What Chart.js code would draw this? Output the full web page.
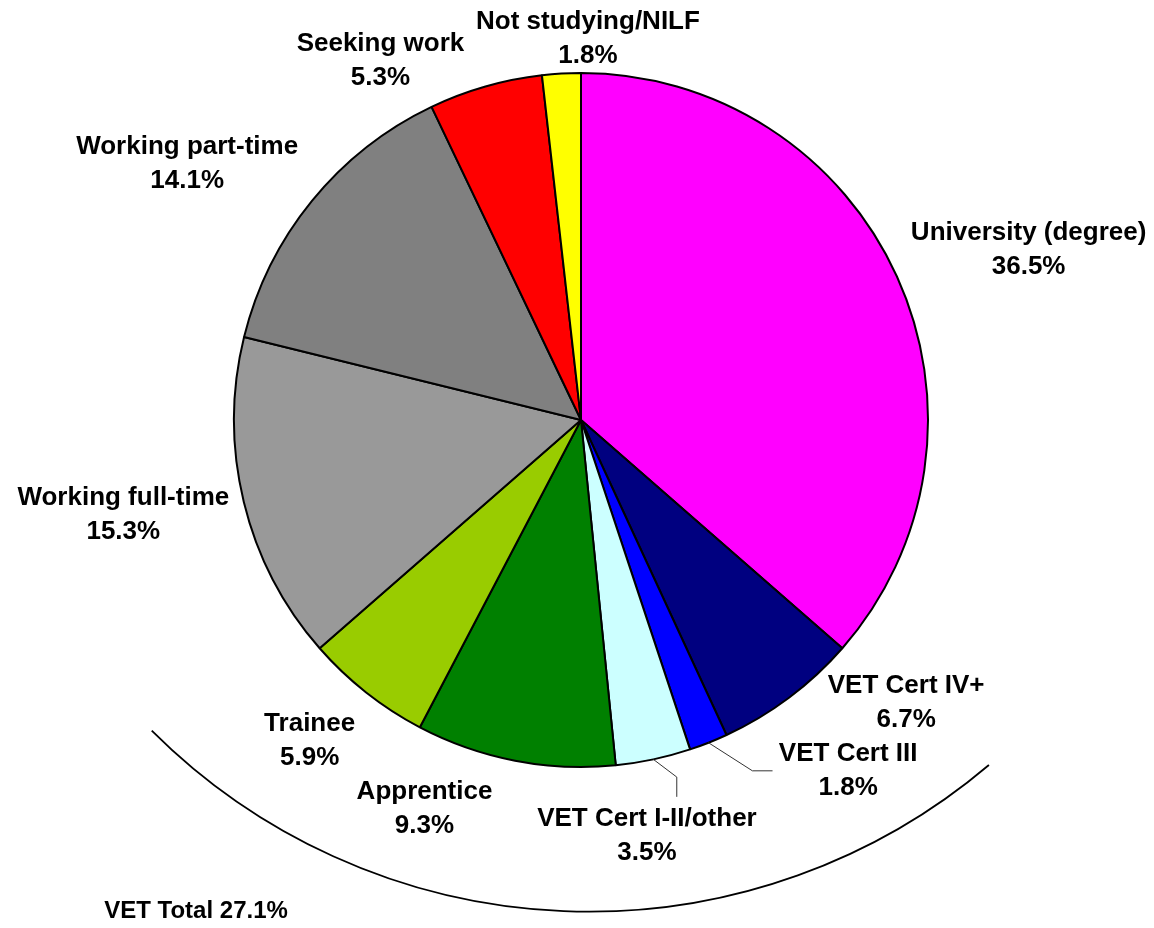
<!DOCTYPE html>
<html>
<head>
<meta charset="utf-8">
<script src="https://cdn.jsdelivr.net/npm/chart.js@4.4.1/dist/chart.umd.min.js"></script>
<style>
  html, body { margin: 0; padding: 0; background: #fff; }
  #wrap { width: 1154px; height: 928px; }
</style>
</head>
<body>
<div id="wrap"><canvas id="myChart" width="1154" height="928"></canvas></div>
<script>
const categories = [
  'University (degree)', 'VET Cert IV+', 'VET Cert III', 'VET Cert I-II/other',
  'Apprentice', 'Trainee', 'Working full-time', 'Working part-time',
  'Seeking work', 'Not studying/NILF'
];
const shares = [36.5, 6.7, 1.8, 3.5, 9.3, 5.9, 15.3, 14.1, 5.3, 1.8];
const vetTotalLabel = 'VET Total 27.1%';

const sliceColors = [
  '#FF00FF', '#000080', '#0000FF', '#CCFFFF', '#008000',
  '#99CC00', '#999999', '#808080', '#FF0000', '#FFFF00'
];

// label centres, measured in pie radii from the pie centre
const labelSpots = [
  [1.290, -0.489], [0.937, 0.815], [0.770, 1.010], [0.190, 1.197], [-0.451, 1.121],
  [-0.782, 0.924], [-1.319, 0.274], [-1.135, -0.739], [-0.578, -1.036], [0.020, -1.099]
];
// leader lines (elbow, end) for the thin slices
const leaders = {
  2: [[0.494, 1.011], [0.552, 1.011]],
  3: [[0.276, 1.029], [0.276, 1.086]]
};

const FONT = 'bold 26px "Liberation Sans", Arial, sans-serif';
const LINE = 34;

const labelPlugin = {
  id: 'outsideLabels',
  afterDatasetsDraw(chart) {
    const ctx = chart.ctx;
    const meta = chart.getDatasetMeta(0);
    const first = meta.data[0];
    const cx = first.x, cy = first.y, R = first.outerRadius;

    ctx.save();
    // leader lines
    ctx.strokeStyle = '#333';
    ctx.lineWidth = 1;
    for (const i in leaders) {
      const arc = meta.data[i];
      const mid = (arc.startAngle + arc.endAngle) / 2;
      ctx.beginPath();
      ctx.moveTo(cx + Math.cos(mid) * R, cy + Math.sin(mid) * R);
      for (const p of leaders[i]) ctx.lineTo(cx + p[0] * R, cy + p[1] * R);
      ctx.stroke();
    }

    // labels
    ctx.fillStyle = '#000';
    ctx.font = FONT;
    ctx.textAlign = 'center';
    ctx.textBaseline = 'middle';
    categories.forEach((name, i) => {
      const x = cx + labelSpots[i][0] * R;
      const y = cy + labelSpots[i][1] * R;
      ctx.fillText(name, x, y - LINE / 2);
      ctx.fillText(shares[i].toFixed(1) + '%', x, y + LINE / 2);
    });

    // VET bracket arc underneath
    ctx.strokeStyle = '#000';
    ctx.lineWidth = 1.8;
    ctx.beginPath();
    ctx.arc(cx + 0.023 * R, cy - 0.365 * R, 1.782 * R, 49.7 * Math.PI / 180, 135 * Math.PI / 180);
    ctx.stroke();

    ctx.font = 'bold 24px "Liberation Sans", Arial, sans-serif';
    ctx.textAlign = 'left';
    ctx.fillText(vetTotalLabel, cx - 1.374 * R, cy + 1.417 * R);
    ctx.restore();
  }
};

new Chart(document.getElementById('myChart'), {
  type: 'pie',
  data: {
    labels: categories,
    datasets: [{
      data: shares,
      backgroundColor: sliceColors,
      borderColor: '#000',
      borderWidth: 2
    }]
  },
  options: {
    responsive: false,
    animation: false,
    layout: { padding: { left: 233, right: 225, top: 72, bottom: 160 } },
    plugins: {
      legend: { display: false },
      tooltip: { enabled: false }
    }
  },
  plugins: [labelPlugin]
});
</script>
</body>
</html>
